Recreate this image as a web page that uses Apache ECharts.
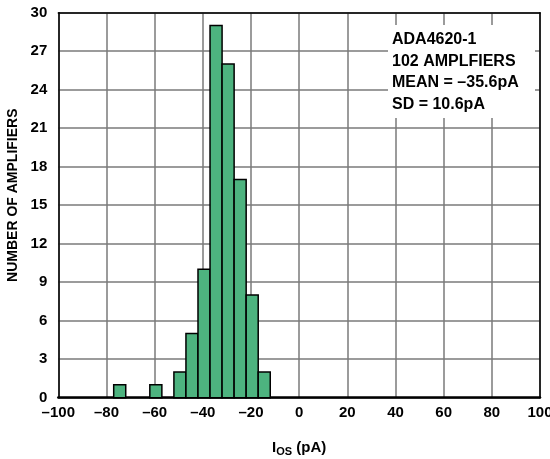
<!DOCTYPE html>
<html>
<head>
<meta charset="utf-8">
<script src="https://cdn.jsdelivr.net/npm/echarts@6/dist/echarts.min.js"></script>
<style>
html,body{margin:0;padding:0;background:#fff;}
#chart{width:550px;height:459px;}
</style>
</head>
<body>
<div id="chart"></div>
<script>
// Histogram data (bin start in pA, bin width 5 pA)
var binStarts = [-77, -62, -52, -47, -42, -37, -32, -27, -22, -17];
var binCounts = [1, 1, 2, 5, 10, 29, 26, 17, 8, 2];
var binWidth = 5;
var xTicks = [-100, -80, -60, -40, -20, 0, 20, 40, 60, 80, 100];
var yTicks = [0, 3, 6, 9, 12, 15, 18, 21, 24, 27, 30];
var noteLines = ['ADA4620-1', '102 AMPLFIERS', 'MEAN = \u201335.6pA', 'SD = 10.6pA'];

var FONT = '"Liberation Sans", Arial, sans-serif';
var data = binStarts.map(function (s, i) { return [s, s + binWidth, binCounts[i]]; });

var chart = echarts.init(document.getElementById('chart'), null, {renderer: 'canvas'});

function fmt(v) { return String(v).replace('-', '\u2013'); }

var option = {
  animation: false,
  grid: {left: 58.3, right: 10, top: 12.7, bottom: 61.3, containLabel: false, outerBoundsMode: 'none'},
  xAxis: [{
    type: 'value', min: xTicks[0], max: xTicks[xTicks.length - 1], interval: 20,
    axisLine: {show: true, onZero: false, lineStyle: {color: '#000', width: 2.5}},
    axisTick: {show: false},
    axisLabel: {formatter: fmt, color: '#000', fontFamily: FONT, fontWeight: 'bold', fontSize: 15, margin: 8, hideOverlap: false},
    splitLine: {show: true, lineStyle: {color: '#7a7a7a', width: 1.5}},
    name: '{i|I}{s|OS}{i| (pA)}',
    nameLocation: 'middle', nameGap: 40,
    nameTextStyle: {
      rich: {
        i: {fontFamily: FONT, fontWeight: 'bold', fontSize: 15, color: '#000'},
        s: {fontFamily: FONT, fontWeight: 'bold', fontSize: 11, color: '#000', padding: [9, 0, 0, 0]}
      }
    }
  }, {
    type: 'value', position: 'top', min: xTicks[0], max: xTicks[xTicks.length - 1], interval: 20,
    axisLine: {show: true, onZero: false, lineStyle: {color: '#000', width: 1.5}},
    axisTick: {show: false}, axisLabel: {show: false}, splitLine: {show: false}
  }],
  yAxis: [{
    type: 'value', min: yTicks[0], max: yTicks[yTicks.length - 1], interval: 3,
    axisLine: {show: true, onZero: false, lineStyle: {color: '#000', width: 1.5}},
    axisTick: {show: false},
    axisLabel: {color: '#000', fontFamily: FONT, fontWeight: 'bold', fontSize: 15, margin: 11},
    splitLine: {show: true, lineStyle: {color: '#7a7a7a', width: 1.5}},
    name: 'NUMBER OF AMPLIFIERS',
    nameLocation: 'middle', nameGap: 35,
    nameTextStyle: {fontFamily: FONT, fontWeight: 'bold', fontSize: 14, color: '#000', padding: [0, 0, 0, 20]}
  }, {
    type: 'value', position: 'right', min: yTicks[0], max: yTicks[yTicks.length - 1], interval: 3,
    axisLine: {show: true, onZero: false, lineStyle: {color: '#000', width: 1.5}},
    axisTick: {show: false}, axisLabel: {show: false}, splitLine: {show: false}
  }],
  series: [{
    type: 'custom',
    xAxisIndex: 0, yAxisIndex: 0,
    data: data,
    z: 5,
    renderItem: function (params, api) {
      var p0 = api.coord([api.value(0), 0]);
      var p1 = api.coord([api.value(1), api.value(2)]);
      return {
        type: 'rect',
        shape: {x: p0[0], y: p1[1], width: p1[0] - p0[0], height: p0[1] - p1[1]},
        style: {fill: '#4db37f', stroke: '#000', lineWidth: 1.5}
      };
    }
  }],
  graphic: [{
    type: 'rect', z: 100,
    shape: {x: 388, y: 25, width: 147, height: 93},
    style: {fill: '#fff'}
  }, {
    type: 'text', z: 101, left: 392, top: 29,
    style: {
      text: noteLines.join('\n'),
      font: 'bold 16px ' + FONT,
      lineHeight: 21.5,
      fill: '#000'
    }
  }]
};
chart.setOption(option);
</script>
</body>
</html>
